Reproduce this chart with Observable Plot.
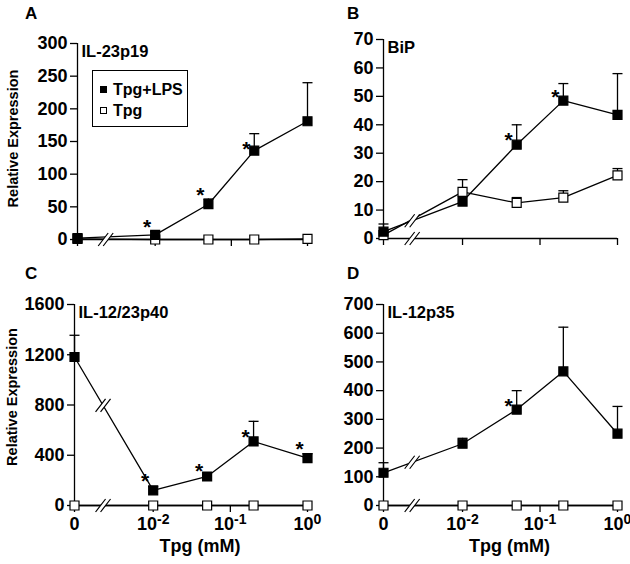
<!DOCTYPE html>
<html><head><meta charset="utf-8">
<script src="https://cdn.jsdelivr.net/npm/d3@7"></script>
<script src="https://cdn.jsdelivr.net/npm/@observablehq/plot@0.6"></script>
<style>
body{margin:0;background:#fff;font-family:"Liberation Sans",Arial,sans-serif;}
#wrap{position:relative;width:630px;height:564px;background:#fff;}
.panel{position:absolute;}
.plab{position:absolute;font-weight:bold;font-size:17px;line-height:1;}
#legend{position:absolute;left:92px;top:70px;width:96px;height:57px;border:1.3px solid #000;box-sizing:border-box;font-weight:bold;font-size:16px;padding-top:8px;}
.lrow{height:21px;display:flex;align-items:center;}
.sq{display:inline-block;width:7px;height:7px;border:1.2px solid #000;margin:0 6px 0 7px;box-sizing:border-box;}
</style></head><body><div id="wrap"></div>
<script>
// ---- data ----
const conc = [0, 0.01, 0.05, 0.2, 1];           // Tpg (mM)
const seriesNames = ["Tpg+LPS", "Tpg"];
const xTickConc = [0, 0.01, 0.1, 1];
const xTickLabels = ["0", "10^-2", "10^-1", "10^0"];
const panelLetters = ["A", "B", "C", "D"];
const panelTitles = ["IL-23p19", "BiP", "IL-12/23p40", "IL-12p35"];

// A: IL-23p19
const a_lps = [2, 7, 54, 136, 181];
const a_lps_err = [0, 5, 8, 26, 59];
const a_tpg = [1, 0, 0, 0, 1];
const a_tpg_err = [0, 0, 0, 0, 0];
const a_ticks = [0, 50, 100, 150, 200, 250, 300];
const a_stars = [[0.01, 26], [0.05, 75], [0.2, 146]];

// B: BiP
const b_lps = [2.4, 13, 33, 48.5, 43.5];
const b_lps_err = [2.7, 0, 7, 6, 14.5];
const b_tpg = [1.2, 16.4, 12.5, 14.4, 22.2];
const b_tpg_err = [0, 4.3, 1.9, 2.4, 2.4];
const b_ticks = [0, 10, 20, 30, 40, 50, 60, 70];
const b_stars = [[0.05, 36.2], [0.2, 51.4]];

// C: IL-12/23p40
const c_lps = [1182, 120, 231, 510, 377];
const c_lps_err = [173, 31, 0, 160, 35];
const c_tpg = [0, 0, 0, 0, 0];
const c_tpg_err = [0, 0, 0, 0, 0];
const c_ticks = [0, 400, 800, 1200, 1600];
const c_stars = [[0.01, 231], [0.05, 313], [0.2, 584], [1, 484]];

// D: IL-12p35
const d_lps = [114, 215, 334, 467, 250];
const d_lps_err = [35, 19, 66, 154, 95];
const d_tpg = [0, 0, 0, 0, 0];
const d_tpg_err = [0, 0, 0, 0, 0];
const d_ticks = [0, 100, 200, 300, 400, 500, 600, 700];
const d_stars = [[0.05, 363]];

// ---- drawing ----
const ZERO = -3.02, BRK = -2.65;
const TICK_FONT = 18;
const xp = c => c === 0 ? ZERO : Math.log10(c);
const sq = {draw(ctx){ ctx.rect(-4.5, -4.5, 9, 9); }};
const cap = {draw(ctx){ ctx.moveTo(-5, 0); ctx.lineTo(5, 0); }};
const slashes = {draw(ctx){ for (const o of [-2.5, 2.5]) { ctx.moveTo(o - 5, 6.5); ctx.lineTo(o + 5, -6.5); } }};
const gap = {draw(ctx){ ctx.moveTo(-7.5, 6.5); ctx.lineTo(-2.5 + 5, -6.5); ctx.lineTo(2.5 + 5, -6.5); ctx.lineTo(2.5 - 5, 6.5); ctx.closePath(); }};

function rows(v, e) { return conc.map((c, i) => ({x: xp(c), y: v[i], e: e[i]})); }

function panel(o) {
  const L = rows(o.lps, o.lpsErr), T = rows(o.tpg, o.tpgErr);
  const yMax = o.ticks[o.ticks.length - 1];
  const brkMarks = [{x: BRK, y: 0}];
  if (o.lineBreak) {
    const f = (BRK - ZERO) / (-2 - ZERO);
    brkMarks.push({x: BRK, y: o.lps[0] + (o.lps[1] - o.lps[0]) * f});
  }
  const xt = xTickConc.map(xp);
  const marks = [
    Plot.ruleX([ZERO], {y1: 0, y2: yMax, stroke: "#000", strokeWidth: 1.3}),
    Plot.ruleY([0], {x1: ZERO, x2: 0, stroke: "#000", strokeWidth: 1.3}),
    Plot.axisY({ticks: o.ticks, tickSize: 7, tickPadding: 3, label: null, strokeWidth: 1.3, tickFormat: d => String(d)}),
    Plot.axisX({ticks: xt, tickSize: 7, tickPadding: 5, label: null, strokeWidth: 1.3,
      tickFormat: d => o.xlabels ? xTickLabels[xt.indexOf(d)] : ""}),
    Plot.line(T, {x: "x", y: "y", stroke: "#000", strokeWidth: 1.3}),
    Plot.line(L, {x: "x", y: "y", stroke: "#000", strokeWidth: 1.3}),
    Plot.dot(brkMarks, {x: "x", y: "y", symbol: gap, fill: "#fff", stroke: "none"}),
    Plot.dot(brkMarks, {x: "x", y: "y", symbol: slashes, fill: "none", stroke: "#000", strokeWidth: 1.2}),
    Plot.ruleX(T.filter(d => d.e > 0), {x: "x", y1: "y", y2: d => d.y + d.e, stroke: "#000", strokeWidth: 1.3}),
    Plot.dot(T.filter(d => d.e > 0), {x: "x", y: d => d.y + d.e, symbol: cap, fill: "none", stroke: "#000", strokeWidth: 1.3}),
    Plot.ruleX(L.filter(d => d.e > 0), {x: "x", y1: "y", y2: d => d.y + d.e, stroke: "#000", strokeWidth: 1.3}),
    Plot.dot(L.filter(d => d.e > 0), {x: "x", y: d => d.y + d.e, symbol: cap, fill: "none", stroke: "#000", strokeWidth: 1.3}),
    Plot.dot(T, {x: "x", y: "y", symbol: sq, fill: "#fff", stroke: "#000", strokeWidth: 1.2}),
    Plot.dot(L, {x: "x", y: "y", symbol: sq, fill: "#000", stroke: "#000", strokeWidth: 1.2}),
    Plot.text(o.stars, {x: d => xp(d[0]), y: d => d[1], text: () => "*", fontSize: 21, fontWeight: "bold", dx: -8, dy: 5, fill: "#000"}),
    Plot.text([o.title], {frameAnchor: "top-left", text: d => d, dx: 4, dy: 2, lineAnchor: "top", textAnchor: "start", fontSize: 16.5, fontWeight: "bold", fill: "#000"})
  ];
  if (o.ylabel) marks.push(Plot.text(["Relative Expression"], {frameAnchor: "left", text: d => d, rotate: -90, textAnchor: "middle", dx: o.ylabelDx, dy: o.ylabelDy, fontSize: 14.5, fontWeight: "bold", fill: "#000"}));
  if (o.xlabels) marks.push(Plot.text(["Tpg (mM)"], {frameAnchor: "bottom", text: d => d, dx: 9, dy: 46, fontSize: 18, fontWeight: "bold", fill: "#000"}));
  const svg = Plot.plot({
    width: o.width, height: o.height,
    marginLeft: o.mL, marginRight: o.mR, marginTop: o.mT, marginBottom: o.mB,
    x: {type: "linear", domain: [ZERO, 0]},
    y: {type: "linear", domain: [0, yMax]},
    style: {fontFamily: '"Liberation Sans", Arial, sans-serif', fontSize: TICK_FONT + "px", fontWeight: "bold", color: "#000", background: "transparent", overflow: "visible"},
    marks
  });
  svg.querySelectorAll('g[aria-label$="tick label"]').forEach(g => {
    g.setAttribute("font-size", TICK_FONT);
    g.style.fontSize = TICK_FONT + "px";
    g.setAttribute("font-weight", "bold");
  });
  svg.querySelectorAll('g[aria-label="x-axis tick label"] text').forEach(t => {
    const m = /^10\^(-?\d)$/.exec(t.textContent);
    if (m) {
      t.textContent = "10";
      const ts = document.createElementNS("http://www.w3.org/2000/svg", "tspan");
      ts.setAttribute("dy", "-0.42em");
      ts.setAttribute("font-size", "0.78em");
      ts.textContent = m[1];
      t.appendChild(ts);
    }
  });
  const div = document.createElement("div");
  div.className = "panel";
  div.style.left = o.left + "px"; div.style.top = o.top + "px";
  div.appendChild(svg);
  wrap.appendChild(div);
  const lab = document.createElement("div");
  lab.className = "plab"; lab.textContent = o.letter;
  lab.style.left = o.labX + "px"; lab.style.top = o.labY + "px";
  wrap.appendChild(lab);
}

const wrap = document.getElementById("wrap");
panel({letter: panelLetters[0], title: panelTitles[0], left: 0, top: 0, width: 315, height: 255, mL: 77, mR: 8, mT: 43, mB: 16,
  ticks: a_ticks, lps: a_lps, lpsErr: a_lps_err, tpg: a_tpg, tpgErr: a_tpg_err, stars: a_stars, lineBreak: false,
  ylabel: true, ylabelDx: -64, ylabelDy: -3, xlabels: false, labX: 25, labY: 5});
panel({letter: panelLetters[1], title: panelTitles[1], left: 310, top: 0, width: 320, height: 255, mL: 73, mR: 13, mT: 39, mB: 17,
  ticks: b_ticks, lps: b_lps, lpsErr: b_lps_err, tpg: b_tpg, tpgErr: b_tpg_err, stars: b_stars, lineBreak: true,
  ylabel: false, xlabels: false, labX: 347, labY: 5});
panel({letter: panelLetters[2], title: panelTitles[2], left: 0, top: 260, width: 315, height: 304, mL: 74, mR: 8, mT: 44, mB: 59,
  ticks: c_ticks, lps: c_lps, lpsErr: c_lps_err, tpg: c_tpg, tpgErr: c_tpg_err, stars: c_stars, lineBreak: true,
  ylabel: true, ylabelDx: -62, ylabelDy: -8, xlabels: true, labX: 25, labY: 265});
panel({letter: panelLetters[3], title: panelTitles[3], left: 310, top: 260, width: 320, height: 304, mL: 73, mR: 13, mT: 44, mB: 59,
  ticks: d_ticks, lps: d_lps, lpsErr: d_lps_err, tpg: d_tpg, tpgErr: d_tpg_err, stars: d_stars, lineBreak: true,
  ylabel: false, xlabels: true, labX: 347, labY: 265});

// legend (panel A)
const leg = document.createElement("div");
leg.id = "legend";
seriesNames.forEach((n, i) => {
  const r = document.createElement("div"); r.className = "lrow";
  const s = document.createElement("span"); s.className = "sq"; s.style.background = i === 0 ? "#000" : "#fff";
  r.appendChild(s); r.appendChild(document.createTextNode(n));
  leg.appendChild(r);
});
wrap.appendChild(leg);
</script></body></html>
